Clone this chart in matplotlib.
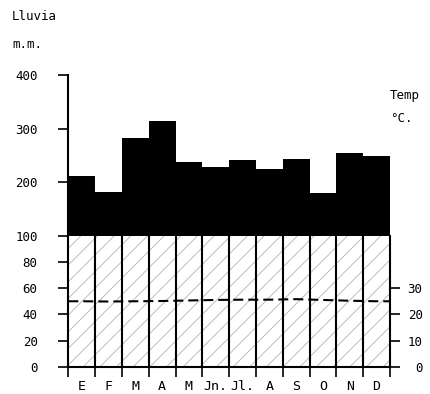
import matplotlib
matplotlib.use('Agg')
import matplotlib.pyplot as plt
import numpy as np

months = ['E', 'F', 'M', 'A', 'M', 'Jn.', 'Jl.', 'A', 'S', 'O', 'N', 'D']
rain = [212, 182, 282, 314, 238, 229, 241, 224, 243, 179, 254, 248]
temp = [25.0, 24.9, 25.0, 25.1, 25.3, 25.5, 25.6, 25.6, 25.8, 25.5, 25.2, 25.0]
rain_ticks = [0, 20, 40, 60, 80, 100, 200, 300, 400]
temp_ticks = [0, 10, 20, 30]

R = 0.407  # compression above 100 mm


def fwd(y):
    y = np.asarray(y, float)
    return np.where(y <= 100, y, 100 + (y - 100) * R)


def inv(v):
    v = np.asarray(v, float)
    return np.where(v <= 100, v, 100 + (v - 100) / R)


plt.rcParams['font.family'] = ['DejaVu Sans Mono']
plt.rcParams['hatch.linewidth'] = 0.6

W, H = 431, 394
fig = plt.figure(figsize=(W / 100, H / 100), dpi=100)
x0, x1, yb, yt = 68.3, 390, 367, 75
ax = fig.add_axes([x0 / W, (H - yb) / H, (x1 - x0) / W, (yb - yt) / H])
ax.set_yscale('function', functions=(fwd, inv))
ax.set_xlim(0, 12)
ax.set_ylim(0, 400)

x = np.arange(len(months))
# humid area 0-100
ax.bar(x, [100] * len(months), width=1, align='edge', facecolor='white',
       edgecolor='#b4b4b4', hatch='//', linewidth=0, zorder=1)
# precipitation above 100 (black)
ax.bar(x, np.array(rain) - 100, bottom=100, width=1, align='edge',
       color='black', linewidth=0, zorder=2)
ax.vlines(np.arange(1, 12), 0, 100, color='black', lw=1.5, zorder=3)

ax.spines['top'].set_visible(False)
ax.spines['right'].set_bounds(0, 100)
for s in ['left', 'bottom', 'right']:
    ax.spines[s].set_linewidth(1.5)

ax.set_xticks(np.arange(13))
ax.set_xticklabels([''] * 13)
ax.set_xticks(x + 0.5, minor=True)
ax.set_xticklabels(months, minor=True, fontsize=9.5)
ax.tick_params(axis='x', which='major', length=7, width=1.2, direction='out')
ax.tick_params(axis='x', which='minor', length=0, pad=9)

ax.set_yticks(rain_ticks)
ax.set_yticklabels([str(t) for t in rain_ticks], fontsize=9)
ax.yaxis.set_minor_locator(matplotlib.ticker.NullLocator())
ax.tick_params(axis='y', length=7, width=1.2, pad=15)

ax2 = ax.twinx()
ax2.set_yscale('function', functions=(lambda t: fwd(2 * np.asarray(t, float)),
                                       lambda v: inv(v) / 2))
ax2.set_ylim(0, 200)
for s in ['top', 'left', 'bottom', 'right']:
    ax2.spines[s].set_visible(False)
ax2.set_yticks(temp_ticks)
ax2.set_yticklabels([str(t) for t in temp_ticks], fontsize=9)
ax2.yaxis.set_minor_locator(matplotlib.ticker.NullLocator())
ax2.tick_params(axis='y', length=7, width=1.2, pad=16.5)
for lbl in ax2.get_yticklabels():
    lbl.set_horizontalalignment('right')

edge = (temp[-1] + temp[0]) / 2
tx = np.concatenate([[0], x + 0.5, [12]])
ty = np.concatenate([[edge], temp, [edge]])
ax2.plot(tx, ty, color='black', lw=1.5, dashes=(4.8, 2.4), zorder=4)

fig.text(12 / W, 1 - 16 / H, 'Lluvia', fontsize=9, va='center', ha='left')
fig.text(12 / W, 1 - 45 / H, 'm.m.', fontsize=9, va='center', ha='left')
fig.text(390 / W, 1 - 95 / H, 'Temp', fontsize=9, va='center', ha='left')
fig.text(390 / W, 1 - 119 / H, '°C.', fontsize=9, va='center', ha='left')

fig.savefig('out.png', dpi=100)
